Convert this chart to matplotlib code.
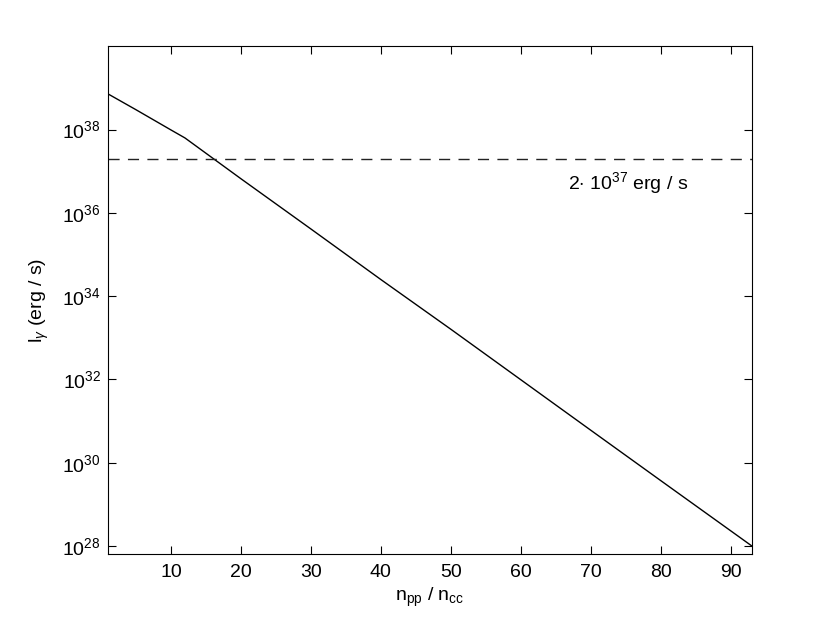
import matplotlib
matplotlib.use('Agg')
import matplotlib.pyplot as plt

plt.rcParams['font.family'] = ['Liberation Sans', 'DejaVu Sans']
plt.rcParams['mathtext.fontset'] = 'custom'
plt.rcParams['mathtext.rm'] = 'Liberation Sans'
plt.rcParams['mathtext.it'] = 'Liberation Sans:italic'
plt.rcParams['mathtext.bf'] = 'Liberation Sans:bold'

# luminosity vs n_pp / n_cc
ratio = [1, 5, 10, 12, 20, 30, 40, 50, 60, 70, 80, 93]
lum = [7.2e38, 3.0e38, 9.8e37, 6.3e37, 6.6e36, 4.1e35, 2.5e34,
       1.6e33, 9.8e31, 6.0e30, 3.7e29, 1.0e28]
limit = 2e37
xticks = [10, 20, 30, 40, 50, 60, 70, 80, 90]
yticks = [1e28, 1e30, 1e32, 1e34, 1e36, 1e38]
ytick_labels = ['$10^{28}$', '$10^{30}$', '$10^{32}$', '$10^{34}$', '$10^{36}$', '$10^{38}$']

fig = plt.figure(figsize=(8.3, 6.25), dpi=100)
ax = fig.add_axes([0.130, 0.1136, 0.776, 0.8124])

ax.semilogy(ratio, lum, color='black', lw=1.0)
ax.axhline(limit, color='#222222', lw=1.0, dashes=(8, 6))
ax.text(66.7, 10**36.72, r'2$\cdot$ $10^{37}$ erg / s', fontsize=14, va='center', ha='left')

ax.set_xlim(1, 93)
ax.set_ylim(10**27.81, 1e40)
ax.set_xticks(xticks)
ax.set_yticks(yticks)
ax.set_yticklabels(ytick_labels)
ax.minorticks_off()
ax.tick_params(direction='in', top=True, right=True, length=6, labelsize=14, width=0.8)
ax.tick_params(axis='y', pad=5)
ax.tick_params(axis='x', pad=7)

ax.set_xlabel(r'n$_{\mathrm{pp}}$ / n$_{\mathrm{cc}}$', fontsize=14, labelpad=4)
ax.set_ylabel(r'l$_{\gamma}$ (erg / s)', fontsize=14, labelpad=8)

plt.savefig('out.png', dpi=100)
